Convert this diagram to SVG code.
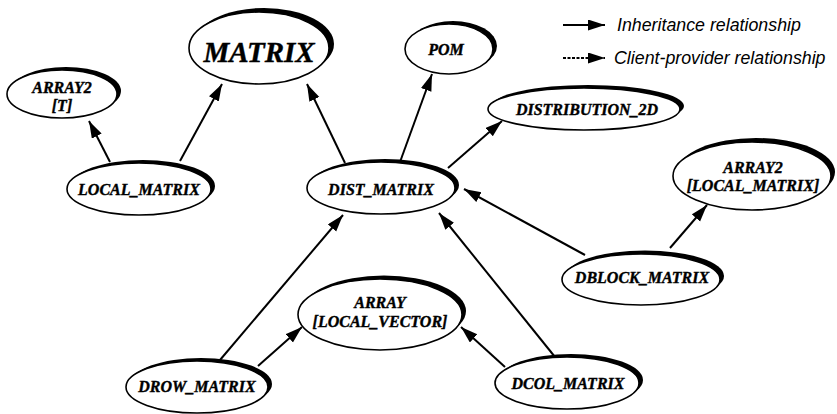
<svg xmlns="http://www.w3.org/2000/svg" width="837" height="414" viewBox="0 0 837 414">
<style>
.sh{fill:#000}
.nd{fill:#fff;stroke:#000;stroke-width:1.6}
.lb{font-family:"Liberation Serif","Times New Roman",serif;font-weight:bold;font-style:italic;font-size:16px;fill:#000;stroke:#000;stroke-width:0.4;text-anchor:middle}
.ed{stroke:#000;stroke-width:2;fill:none;marker-end:url(#ah)}
.lg{font-family:"Liberation Sans",Arial,sans-serif;font-style:italic;font-size:17.8px;fill:#000}
</style>
<defs>
<marker id="ah" markerUnits="userSpaceOnUse" markerWidth="18" markerHeight="12" refX="17" refY="5.5" orient="auto">
<path d="M0,0 L17,5.5 L0,11 z" fill="#000"/>
</marker>
</defs>
<rect width="837" height="414" fill="#fff"/>

<g id="connectors">
<line class="ed" x1="110" y1="162" x2="89" y2="121"/>
<line class="ed" x1="180" y1="161" x2="222" y2="84"/>
<line class="ed" x1="345" y1="163" x2="307" y2="84"/>
<line class="ed" x1="400" y1="162" x2="432" y2="74"/>
<line class="ed" x1="448" y1="168" x2="502" y2="121"/>
<line class="ed" x1="585" y1="255" x2="464" y2="189"/>
<line class="ed" x1="670" y1="248" x2="707" y2="205"/>
<line class="ed" x1="555" y1="357" x2="439" y2="213"/>
<line class="ed" x1="505" y1="367" x2="461" y2="327"/>
<line class="ed" x1="220" y1="360" x2="343" y2="215"/>
<line class="ed" x1="258" y1="366" x2="302" y2="327"/>
</g>

<g id="legend">
<line class="ed" x1="563" y1="25" x2="605" y2="25"/>
<text class="lg" x="617" y="31">Inheritance relationship</text>
<line class="ed" x1="563" y1="58" x2="605" y2="58" stroke-width="1.3" stroke-dasharray="3,1.5"/>
<text class="lg" x="614" y="64">Client-provider relationship</text>
</g>

<g id="MATRIX">
<ellipse class="sh" cx="264" cy="44" rx="70" ry="36"/>
<ellipse class="nd" cx="259" cy="48" rx="70" ry="36"/>
<text class="lb" x="259" y="62" style="font-size:29px">MATRIX</text>
</g>

<g id="ARRAY2_T">
<ellipse class="sh" cx="66" cy="91" rx="55" ry="24"/>
<ellipse class="nd" cx="62" cy="94" rx="55" ry="24"/>
<text class="lb" x="62" y="93">ARRAY2</text>
<text class="lb" x="62" y="111">[T]</text>
</g>

<g id="LOCAL_MATRIX">
<ellipse class="sh" cx="143" cy="186" rx="72" ry="26"/>
<ellipse class="nd" cx="139" cy="189" rx="72" ry="26"/>
<text class="lb" x="139" y="195">LOCAL_MATRIX</text>
</g>

<g id="DIST_MATRIX">
<ellipse class="sh" cx="385" cy="185" rx="74" ry="26"/>
<ellipse class="nd" cx="381" cy="188" rx="74" ry="26"/>
<text class="lb" x="381" y="195">DIST_MATRIX</text>
</g>

<g id="POM">
<ellipse class="sh" cx="453" cy="46" rx="44" ry="25"/>
<ellipse class="nd" cx="449" cy="49" rx="44" ry="25"/>
<text class="lb" x="446" y="55">POM</text>
</g>

<g id="DISTRIBUTION_2D">
<ellipse class="sh" cx="588" cy="106" rx="96" ry="21"/>
<ellipse class="nd" cx="584" cy="109" rx="96" ry="21"/>
<text class="lb" x="587" y="115">DISTRIBUTION_2D</text>
</g>

<g id="ARRAY2_LOCAL_MATRIX">
<ellipse class="sh" cx="756" cy="172" rx="79" ry="34"/>
<ellipse class="nd" cx="752" cy="176" rx="79" ry="34"/>
<text class="lb" x="753" y="173">ARRAY2</text>
<text class="lb" x="753" y="191">[LOCAL_MATRIX]</text>
</g>

<g id="DBLOCK_MATRIX">
<ellipse class="sh" cx="645" cy="276" rx="79" ry="25.5"/>
<ellipse class="nd" cx="641" cy="279.5" rx="79" ry="25.5"/>
<text class="lb" x="642" y="283">DBLOCK_MATRIX</text>
</g>

<g id="ARRAY_LOCAL_VECTOR">
<ellipse class="sh" cx="384" cy="311" rx="82" ry="35.5"/>
<ellipse class="nd" cx="380" cy="314.5" rx="82" ry="35.5"/>
<text class="lb" x="380" y="308">ARRAY</text>
<text class="lb" x="380" y="327">[LOCAL_VECTOR]</text>
</g>

<g id="DROW_MATRIX">
<ellipse class="sh" cx="201" cy="384" rx="71" ry="26"/>
<ellipse class="nd" cx="197" cy="387" rx="71" ry="26"/>
<text class="lb" x="197" y="392">DROW_MATRIX</text>
</g>

<g id="DCOL_MATRIX">
<ellipse class="sh" cx="571" cy="380" rx="72" ry="26"/>
<ellipse class="nd" cx="567" cy="383" rx="72" ry="26"/>
<text class="lb" x="568" y="389">DCOL_MATRIX</text>
</g>
</svg>
